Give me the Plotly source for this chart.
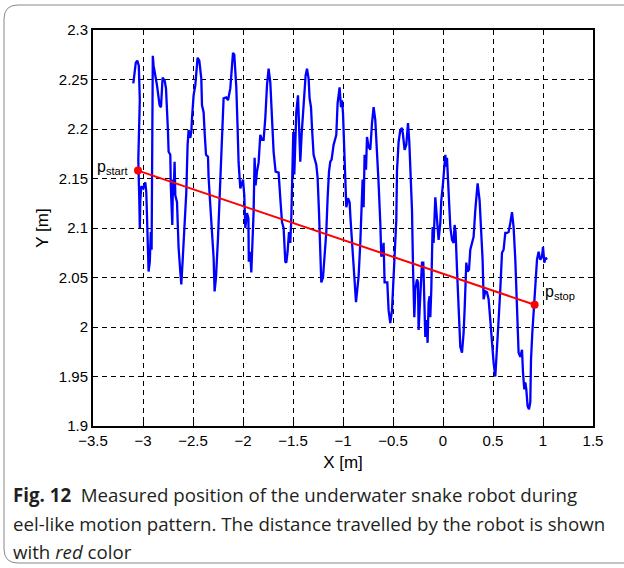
import plotly.graph_objects as go

# ---- data ----
x_path = [-3.097, -3.072, -3.057, -3.042, -3.032, -3.037, -3.047, -3.037, -3.032, -3.027,
          -3.017, -2.997, -2.977, -2.967, -2.957, -2.944, -2.932, -2.922, -2.914, -2.907,
          -2.902, -2.894, -2.860, -2.834, -2.820, -2.804, -2.784, -2.770, -2.760, -2.750,
          -2.744, -2.727, -2.722, -2.714, -2.707, -2.700, -2.694, -2.684, -2.677, -2.660,
          -2.654, -2.644, -2.627, -2.617, -2.604, -2.584, -2.567, -2.554, -2.544, -2.527,
          -2.517, -2.510, -2.494, -2.477, -2.467, -2.454, -2.437, -2.417, -2.410, -2.394,
          -2.384, -2.370, -2.350, -2.344, -2.327, -2.310, -2.294, -2.284, -2.270, -2.250,
          -2.227, -2.210, -2.194, -2.167, -2.150, -2.127, -2.110, -2.100, -2.087, -2.067,
          -2.054, -2.044, -2.027, -2.000, -1.987, -1.977, -1.960, -1.946, -1.942, -1.927,
          -1.917, -1.907, -1.894, -1.884, -1.874, -1.860, -1.844, -1.827, -1.810, -1.794,
          -1.777, -1.760, -1.744, -1.727, -1.710, -1.694, -1.674, -1.644, -1.627, -1.610,
          -1.594, -1.577, -1.567, -1.554, -1.540, -1.527, -1.517, -1.507, -1.497, -1.487,
          -1.477, -1.467, -1.450, -1.440, -1.427, -1.414, -1.400, -1.387, -1.374, -1.360,
          -1.344, -1.334, -1.320, -1.310, -1.294, -1.267, -1.254, -1.240, -1.227, -1.217,
          -1.200, -1.187, -1.167, -1.154, -1.140, -1.127, -1.114, -1.094, -1.067, -1.054,
          -1.044, -1.034, -1.020, -1.010, -1.000, -0.990, -0.977, -0.967, -0.950, -0.934,
          -0.924, -0.904, -0.887, -0.870, -0.857, -0.844, -0.827, -0.810, -0.804, -0.794,
          -0.784, -0.770, -0.760, -0.744, -0.727, -0.710, -0.694, -0.677, -0.660, -0.644,
          -0.627, -0.617, -0.604, -0.594, -0.584, -0.557, -0.544, -0.527, -0.510, -0.494,
          -0.477, -0.467, -0.460, -0.444, -0.427, -0.410, -0.400, -0.384, -0.367, -0.350,
          -0.337, -0.324, -0.310, -0.300, -0.287, -0.277, -0.260, -0.250, -0.244, -0.234,
          -0.224, -0.210, -0.197, -0.187, -0.177, -0.164, -0.154, -0.144, -0.134, -0.127,
          -0.117, -0.104, -0.094, -0.077, -0.060, -0.044, -0.027, -0.017, 0.000, 0.013,
          0.023, 0.033, 0.040, 0.050, 0.056, 0.073, 0.090, 0.106, 0.116, 0.126,
          0.140, 0.156, 0.173, 0.190, 0.206, 0.216, 0.233, 0.246, 0.260, 0.273,
          0.290, 0.306, 0.323, 0.333, 0.346, 0.366, 0.383, 0.396, 0.406, 0.423,
          0.440, 0.456, 0.473, 0.490, 0.506, 0.523, 0.540, 0.556, 0.573, 0.590,
          0.606, 0.623, 0.640, 0.656, 0.673, 0.690, 0.706, 0.723, 0.740, 0.756,
          0.773, 0.790, 0.800, 0.813, 0.823, 0.833, 0.846, 0.860, 0.873, 0.880,
          0.893, 0.906, 0.923, 0.940, 0.956, 0.973, 0.990, 1.000, 1.013, 1.026,
          1.040]
y_path = [2.246, 2.267, 2.269, 2.264, 2.229, 2.199, 2.169, 2.128, 2.100, 2.128,
          2.142, 2.140, 2.146, 2.136, 2.098, 2.056, 2.066, 2.096, 2.078, 2.179,
          2.274, 2.264, 2.244, 2.224, 2.222, 2.252, 2.249, 2.241, 2.224, 2.197,
          2.177, 2.174, 2.143, 2.128, 2.103, 2.149, 2.133, 2.167, 2.133, 2.126,
          2.103, 2.080, 2.056, 2.043, 2.066, 2.103, 2.136, 2.184, 2.199, 2.191,
          2.197, 2.211, 2.234, 2.244, 2.261, 2.272, 2.269, 2.251, 2.224, 2.217,
          2.197, 2.174, 2.172, 2.151, 2.123, 2.093, 2.070, 2.036, 2.050, 2.090,
          2.151, 2.204, 2.231, 2.232, 2.229, 2.241, 2.269, 2.277, 2.275, 2.242,
          2.201, 2.166, 2.140, 2.149, 2.133, 2.100, 2.115, 2.110, 2.066, 2.076,
          2.055, 2.076, 2.116, 2.171, 2.143, 2.157, 2.166, 2.194, 2.189, 2.189,
          2.211, 2.244, 2.261, 2.247, 2.217, 2.177, 2.157, 2.156, 2.130, 2.106,
          2.100, 2.066, 2.065, 2.076, 2.096, 2.085, 2.110, 2.167, 2.197, 2.154,
          2.187, 2.217, 2.234, 2.204, 2.167, 2.194, 2.217, 2.244, 2.254, 2.261,
          2.251, 2.231, 2.222, 2.201, 2.174, 2.164, 2.151, 2.116, 2.080, 2.045,
          2.050, 2.070, 2.096, 2.130, 2.157, 2.167, 2.169, 2.184, 2.194, 2.226,
          2.232, 2.242, 2.222, 2.229, 2.216, 2.182, 2.149, 2.121, 2.130, 2.126,
          2.108, 2.078, 2.061, 2.025, 2.038, 2.051, 2.085, 2.125, 2.149, 2.121,
          2.174, 2.159, 2.192, 2.182, 2.179, 2.206, 2.222, 2.209, 2.182, 2.145,
          2.105, 2.071, 2.075, 2.085, 2.045, 2.045, 2.017, 2.004, 2.017, 2.058,
          2.088, 2.108, 2.158, 2.187, 2.199, 2.201, 2.194, 2.179, 2.184, 2.206,
          2.187, 2.159, 2.118, 2.061, 2.010, 2.038, 2.048, 2.045, 1.997, 2.017,
          2.038, 2.065, 2.065, 2.025, 1.990, 2.007, 1.984, 2.025, 2.031, 2.010,
          2.038, 2.101, 2.085, 2.131, 2.111, 2.088, 2.105, 2.128, 2.145, 2.167,
          2.174, 2.162, 2.171, 2.149, 2.131, 2.101, 2.088, 2.085, 2.103, 2.096,
          2.058, 2.020, 1.980, 1.974, 1.994, 2.017, 2.065, 2.056, 2.058, 2.078,
          2.085, 2.091, 2.118, 2.135, 2.145, 2.128, 2.095, 2.068, 2.028, 2.036,
          2.035, 2.028, 2.007, 1.980, 1.964, 1.950, 1.974, 2.007, 2.038, 2.075,
          2.078, 2.095, 2.095, 2.096, 2.105, 2.116, 2.101, 2.068, 2.020, 1.974,
          1.970, 1.977, 1.954, 1.937, 1.944, 1.937, 1.920, 1.917, 1.924, 1.967,
          1.994, 2.020, 2.041, 2.068, 2.076, 2.068, 2.071, 2.081, 2.065, 2.070,
          2.068]

x_dist = [-3.05, 0.916]      # p_start, p_stop
y_dist = [2.158, 2.0225]
dist_labels = ["p<sub>start</sub>", "p<sub>stop</sub>"]

x_ticks = [-3.5, -3, -2.5, -2, -1.5, -1, -0.5, 0, 0.5, 1, 1.5]
y_ticks = [1.9, 1.95, 2.0, 2.05, 2.1, 2.15, 2.2, 2.25, 2.3]

caption_lines = [
    "<b>Fig. 12</b>  Measured position of the underwater snake robot during",
    "eel-like motion pattern. The distance travelled by the robot is shown",
    "with <i>red</i> color",
]

# ---- layout geometry ----
W, H = 624, 568
ML, MR, MT, MB = 93, 31, 30, 142
PW, PH = W - ML - MR, H - MT - MB
SANS = "Liberation Sans"


def pxx(xp):
    return (xp - ML) / PW


def pxy(yp):
    return (H - MB - yp) / PH


fig = go.Figure()
fig.add_trace(go.Scatter(x=x_path, y=y_path, mode="lines",
                         line=dict(color="#0000ff", width=2.3), hoverinfo="skip"))
fig.add_trace(go.Scatter(x=x_dist, y=y_dist, mode="lines+markers",
                         line=dict(color="#ff0000", width=2),
                         marker=dict(color="#ff0000", size=8), hoverinfo="skip"))

axis_common = dict(
    showline=True, linecolor="black", linewidth=2, mirror="ticks",
    ticks="inside", ticklen=5, tickwidth=1, tickcolor="black",
    showgrid=True, gridcolor="black", gridwidth=1, griddash="5px,4px",
    zeroline=False,
    tickfont=dict(family=SANS, size=15, color="black"),
)
fig.update_xaxes(range=[-3.5, 1.5], tickvals=x_ticks, **axis_common,
                 title=dict(text="X [m]", standoff=8,
                            font=dict(family=SANS, size=17, color="black")))
fig.update_yaxes(range=[1.9, 2.3], tickvals=y_ticks, **axis_common,
                 title=dict(text="Y [m]", standoff=6,
                            font=dict(family=SANS, size=17, color="black")))

annotations = []
annotations.append(dict(x=x_dist[0], y=y_dist[0], xref="x", yref="y", text=dist_labels[0],
                        showarrow=False, xanchor="right", yanchor="middle", xshift=-7, yshift=3,
                        font=dict(family=SANS, size=16, color="black")))
annotations.append(dict(x=x_dist[1], y=y_dist[1], xref="x", yref="y", text=dist_labels[1],
                        showarrow=False, xanchor="left", yanchor="middle", xshift=8, yshift=12,
                        font=dict(family=SANS, size=16, color="black")))

cap_y = [494, 523, 551]
for t, yp in zip(caption_lines, cap_y):
    annotations.append(dict(x=pxx(11), y=pxy(yp), xref="paper", yref="paper", text=t,
                            showarrow=False, xanchor="left", yanchor="middle", align="left",
                            font=dict(family="Open Sans", size=18.7, color="#231f20")))

# rounded frame around the whole figure (extends past right edge)
r = 14
x0, y0, x1, y1 = 4, 5, 650, 563
path = (f"M {pxx(x0 + r)},{pxy(y0)} L {pxx(x1)},{pxy(y0)} L {pxx(x1)},{pxy(y1)} "
        f"L {pxx(x0 + r)},{pxy(y1)} Q {pxx(x0)},{pxy(y1)} {pxx(x0)},{pxy(y1 - r)} "
        f"L {pxx(x0)},{pxy(y0 + r)} Q {pxx(x0)},{pxy(y0)} {pxx(x0 + r)},{pxy(y0)} Z")

fig.update_layout(
    width=W, height=H,
    margin=dict(l=ML, r=MR, t=MT, b=MB),
    paper_bgcolor="white", plot_bgcolor="white",
    showlegend=False,
    annotations=annotations,
    shapes=[dict(type="path", path=path, xref="paper", yref="paper",
                 line=dict(color="#8a8a8a", width=1), layer="below")],
)

fig.write_html("out.html")
